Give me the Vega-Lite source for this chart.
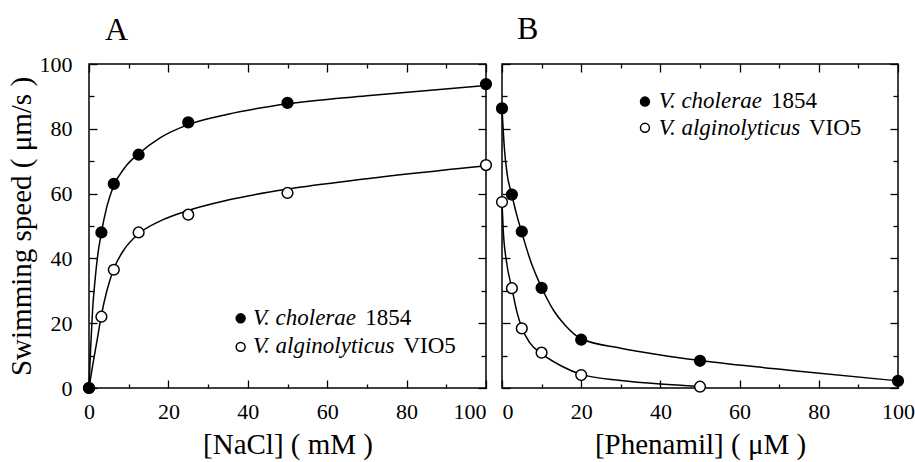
{
  "$schema": "https://vega.github.io/schema/vega-lite/v6.json",
  "background": "white",
  "padding": {"left": 6, "top": 12, "right": 5, "bottom": 5},
  "bounds": "flush",
  "spacing": 16,
  "config": {
    "view": {"stroke": "black", "strokeWidth": 1.5},
    "font": "Liberation Serif",
    "axis": {
      "labelFont": "Liberation Serif", "labelFontSize": 22, "labelColor": "black",
      "titleFont": "Liberation Serif", "titleFontSize": 29, "titleFontWeight": "normal", "titleColor": "black",
      "tickColor": "black", "tickWidth": 1.3, "domain": false, "grid": false,
      "labelFlush": false, "labelOverlap": false, "labelBound": false
    },
    "title": {"font": "Liberation Serif", "fontSize": 32, "fontWeight": "normal", "color": "black"}
  },
  "datasets": {
    "points": [
      {"panel": "A", "strain": "V. alginolyticus VIO5", "x": 0, "y": 0},
      {"panel": "A", "strain": "V. alginolyticus VIO5", "x": 3.125, "y": 22},
      {"panel": "A", "strain": "V. alginolyticus VIO5", "x": 6.25, "y": 36.5},
      {"panel": "A", "strain": "V. alginolyticus VIO5", "x": 12.5, "y": 48},
      {"panel": "A", "strain": "V. alginolyticus VIO5", "x": 25, "y": 53.5},
      {"panel": "A", "strain": "V. alginolyticus VIO5", "x": 50, "y": 60.2},
      {"panel": "A", "strain": "V. alginolyticus VIO5", "x": 100, "y": 68.8},
      {"panel": "A", "strain": "V. cholerae 1854", "x": 0, "y": 0},
      {"panel": "A", "strain": "V. cholerae 1854", "x": 3.125, "y": 48},
      {"panel": "A", "strain": "V. cholerae 1854", "x": 6.25, "y": 63},
      {"panel": "A", "strain": "V. cholerae 1854", "x": 12.5, "y": 72},
      {"panel": "A", "strain": "V. cholerae 1854", "x": 25, "y": 82},
      {"panel": "A", "strain": "V. cholerae 1854", "x": 50, "y": 88},
      {"panel": "A", "strain": "V. cholerae 1854", "x": 100, "y": 93.8},
      {"panel": "B", "strain": "V. alginolyticus VIO5", "x": 0, "y": 57.4},
      {"panel": "B", "strain": "V. alginolyticus VIO5", "x": 2.5, "y": 30.8},
      {"panel": "B", "strain": "V. alginolyticus VIO5", "x": 5, "y": 18.4},
      {"panel": "B", "strain": "V. alginolyticus VIO5", "x": 10, "y": 10.9},
      {"panel": "B", "strain": "V. alginolyticus VIO5", "x": 20, "y": 4.0},
      {"panel": "B", "strain": "V. alginolyticus VIO5", "x": 50, "y": 0.4},
      {"panel": "B", "strain": "V. cholerae 1854", "x": 0, "y": 86.3},
      {"panel": "B", "strain": "V. cholerae 1854", "x": 2.5, "y": 59.7},
      {"panel": "B", "strain": "V. cholerae 1854", "x": 5, "y": 48.3},
      {"panel": "B", "strain": "V. cholerae 1854", "x": 10, "y": 30.9},
      {"panel": "B", "strain": "V. cholerae 1854", "x": 20, "y": 14.9},
      {"panel": "B", "strain": "V. cholerae 1854", "x": 50, "y": 8.4},
      {"panel": "B", "strain": "V. cholerae 1854", "x": 100, "y": 2.2}
    ],
    "curves": [
      {"panel": "A", "strain": "V. cholerae 1854", "x": 0, "y": 0},
      {"panel": "A", "strain": "V. cholerae 1854", "x": 0.4, "y": 12},
      {"panel": "A", "strain": "V. cholerae 1854", "x": 0.9, "y": 24},
      {"panel": "A", "strain": "V. cholerae 1854", "x": 1.5, "y": 33},
      {"panel": "A", "strain": "V. cholerae 1854", "x": 2.2, "y": 41},
      {"panel": "A", "strain": "V. cholerae 1854", "x": 3.125, "y": 48},
      {"panel": "A", "strain": "V. cholerae 1854", "x": 4.5, "y": 56},
      {"panel": "A", "strain": "V. cholerae 1854", "x": 6.25, "y": 62.5},
      {"panel": "A", "strain": "V. cholerae 1854", "x": 9, "y": 68},
      {"panel": "A", "strain": "V. cholerae 1854", "x": 12.5, "y": 72.3},
      {"panel": "A", "strain": "V. cholerae 1854", "x": 18, "y": 77.3},
      {"panel": "A", "strain": "V. cholerae 1854", "x": 25, "y": 81.3},
      {"panel": "A", "strain": "V. cholerae 1854", "x": 35, "y": 84.5},
      {"panel": "A", "strain": "V. cholerae 1854", "x": 50, "y": 87.7},
      {"panel": "A", "strain": "V. cholerae 1854", "x": 70, "y": 90.2},
      {"panel": "A", "strain": "V. cholerae 1854", "x": 100, "y": 93.4},
      {"panel": "A", "strain": "V. alginolyticus VIO5", "x": 0, "y": 0},
      {"panel": "A", "strain": "V. alginolyticus VIO5", "x": 1, "y": 7.5},
      {"panel": "A", "strain": "V. alginolyticus VIO5", "x": 2, "y": 14.5},
      {"panel": "A", "strain": "V. alginolyticus VIO5", "x": 3.125, "y": 22.5},
      {"panel": "A", "strain": "V. alginolyticus VIO5", "x": 4.5, "y": 30},
      {"panel": "A", "strain": "V. alginolyticus VIO5", "x": 6.25, "y": 36.8},
      {"panel": "A", "strain": "V. alginolyticus VIO5", "x": 9, "y": 43},
      {"panel": "A", "strain": "V. alginolyticus VIO5", "x": 12.5, "y": 47.6},
      {"panel": "A", "strain": "V. alginolyticus VIO5", "x": 18, "y": 51.6},
      {"panel": "A", "strain": "V. alginolyticus VIO5", "x": 25, "y": 54.8},
      {"panel": "A", "strain": "V. alginolyticus VIO5", "x": 35, "y": 58},
      {"panel": "A", "strain": "V. alginolyticus VIO5", "x": 50, "y": 61.4},
      {"panel": "A", "strain": "V. alginolyticus VIO5", "x": 70, "y": 64.6},
      {"panel": "A", "strain": "V. alginolyticus VIO5", "x": 100, "y": 68.6},
      {"panel": "B", "strain": "V. cholerae 1854", "x": 0, "y": 86.3},
      {"panel": "B", "strain": "V. cholerae 1854", "x": 0.6, "y": 74},
      {"panel": "B", "strain": "V. cholerae 1854", "x": 1.3, "y": 66},
      {"panel": "B", "strain": "V. cholerae 1854", "x": 2.5, "y": 59.5},
      {"panel": "B", "strain": "V. cholerae 1854", "x": 3.7, "y": 53.5},
      {"panel": "B", "strain": "V. cholerae 1854", "x": 5, "y": 48},
      {"panel": "B", "strain": "V. cholerae 1854", "x": 7, "y": 40},
      {"panel": "B", "strain": "V. cholerae 1854", "x": 10, "y": 31},
      {"panel": "B", "strain": "V. cholerae 1854", "x": 13, "y": 24},
      {"panel": "B", "strain": "V. cholerae 1854", "x": 16, "y": 19.3},
      {"panel": "B", "strain": "V. cholerae 1854", "x": 20, "y": 15.2},
      {"panel": "B", "strain": "V. cholerae 1854", "x": 30, "y": 12.3},
      {"panel": "B", "strain": "V. cholerae 1854", "x": 40, "y": 10.2},
      {"panel": "B", "strain": "V. cholerae 1854", "x": 50, "y": 8.5},
      {"panel": "B", "strain": "V. cholerae 1854", "x": 75, "y": 5.2},
      {"panel": "B", "strain": "V. cholerae 1854", "x": 100, "y": 2.2},
      {"panel": "B", "strain": "V. alginolyticus VIO5", "x": 0, "y": 57.3},
      {"panel": "B", "strain": "V. alginolyticus VIO5", "x": 0.3, "y": 49},
      {"panel": "B", "strain": "V. alginolyticus VIO5", "x": 1.2, "y": 38.5},
      {"panel": "B", "strain": "V. alginolyticus VIO5", "x": 2.5, "y": 30.8},
      {"panel": "B", "strain": "V. alginolyticus VIO5", "x": 3.7, "y": 23.8},
      {"panel": "B", "strain": "V. alginolyticus VIO5", "x": 5, "y": 18.6},
      {"panel": "B", "strain": "V. alginolyticus VIO5", "x": 7, "y": 14},
      {"panel": "B", "strain": "V. alginolyticus VIO5", "x": 10, "y": 10.6},
      {"panel": "B", "strain": "V. alginolyticus VIO5", "x": 15, "y": 6.8},
      {"panel": "B", "strain": "V. alginolyticus VIO5", "x": 20, "y": 4.2},
      {"panel": "B", "strain": "V. alginolyticus VIO5", "x": 30, "y": 2.3},
      {"panel": "B", "strain": "V. alginolyticus VIO5", "x": 40, "y": 1.2},
      {"panel": "B", "strain": "V. alginolyticus VIO5", "x": 50, "y": 0.5}
    ]
  },
  "hconcat": [
    {
      "width": 397, "height": 324,
      "title": {"text": "A", "anchor": "start", "frame": "group", "dx": 16, "offset": -19, "baseline": "alphabetic"},
      "resolve": {"axis": {"x": "independent", "y": "independent"}},
      "layer": [
        {
          "data": {"name": "curves"},
          "transform": [{"filter": "datum.panel == 'A'"}],
          "mark": {"type": "line", "color": "black", "strokeWidth": 1.5, "interpolate": "monotone"},
          "encoding": {
            "x": {"field": "x", "type": "quantitative", "scale": {"domain": [0, 100]},
              "axis": {"orient": "bottom", "values": [0,10,20,30,40,50,60,70,80,90,100],
                "labelExpr": "datum.value % 20 == 0 ? datum.label : ''",
                "tickSize": {"condition": {"test": "datum.value % 20 == 0", "value": -8}, "value": -4},
                "labelPadding": 21,
                "labelAlign": {"condition": {"test": "datum.value == 100", "value": "right"}, "value": "center"},
                "title": "[NaCl] ( mM )", "titlePadding": 4}},
            "y": {"field": "y", "type": "quantitative", "scale": {"domain": [0, 100]},
              "axis": {"orient": "left", "values": [0,10,20,30,40,50,60,70,80,90,100],
                "labelExpr": "datum.value % 20 == 0 ? datum.label : ''",
                "tickSize": {"condition": {"test": "datum.value % 20 == 0", "value": -8}, "value": -5},
                "labelPadding": 25,
                "title": "Swimming speed ( μm/s )", "titlePadding": 3}},
            "detail": {"field": "strain"}
          }
        },
        {
          "data": {"name": "points"},
          "transform": [{"filter": "datum.panel == 'A'"}],
          "mark": {"type": "point", "shape": "circle", "size": 115, "stroke": "black", "strokeWidth": 1.5, "opacity": 1, "filled": true},
          "encoding": {
            "x": {"field": "x", "type": "quantitative",
              "axis": {"orient": "top", "values": [0,10,20,30,40,50,60,70,80,90,100], "labels": false, "title": null,
                "tickSize": {"condition": {"test": "datum.value % 20 == 0", "value": -8}, "value": -4}}},
            "y": {"field": "y", "type": "quantitative",
              "axis": {"orient": "right", "values": [0,10,20,30,40,50,60,70,80,90,100], "labels": false, "title": null,
                "tickSize": {"condition": {"test": "datum.value % 20 == 0", "value": -8}, "value": -5}}},
            "fill": {"field": "strain", "type": "nominal", "scale": {"domain": ["V. alginolyticus VIO5", "V. cholerae 1854"], "range": ["white", "black"]}, "legend": null}
          }
        },
        {
          "data": {"values": [{}]},
          "mark": {"type": "point", "shape": "circle", "size": 80, "stroke": "black", "strokeWidth": 1.5, "fill": "black", "opacity": 1},
          "encoding": {"x": {"datum": 38.2, "type": "quantitative", "axis": null}, "y": {"datum": 21.5, "type": "quantitative", "axis": null}}
        },
        {
          "data": {"values": [{}]},
          "mark": {"type": "point", "shape": "circle", "size": 80, "stroke": "black", "strokeWidth": 1.5, "fill": "white", "opacity": 1},
          "encoding": {"x": {"datum": 38.2, "type": "quantitative", "axis": null}, "y": {"datum": 12.7, "type": "quantitative", "axis": null}}
        },
        {
          "data": {"values": [{}]},
          "mark": {"type": "text", "text": "V. cholerae", "font": "Liberation Serif", "fontSize": 23, "fontStyle": "italic", "align": "left", "baseline": "alphabetic", "color": "black"},
          "encoding": {"x": {"datum": 41.3, "type": "quantitative", "axis": null}, "y": {"datum": 19.4, "type": "quantitative", "axis": null}}
        },
        {
          "data": {"values": [{}]},
          "mark": {"type": "text", "text": "1854", "font": "Liberation Serif", "fontSize": 23, "align": "left", "baseline": "alphabetic", "color": "black"},
          "encoding": {"x": {"datum": 69.6, "type": "quantitative", "axis": null}, "y": {"datum": 19.4, "type": "quantitative", "axis": null}}
        },
        {
          "data": {"values": [{}]},
          "mark": {"type": "text", "text": "V. alginolyticus", "font": "Liberation Serif", "fontSize": 23, "fontStyle": "italic", "align": "left", "baseline": "alphabetic", "color": "black"},
          "encoding": {"x": {"datum": 41.3, "type": "quantitative", "axis": null}, "y": {"datum": 10.8, "type": "quantitative", "axis": null}}
        },
        {
          "data": {"values": [{}]},
          "mark": {"type": "text", "text": "VIO5", "font": "Liberation Serif", "fontSize": 23, "align": "left", "baseline": "alphabetic", "color": "black"},
          "encoding": {"x": {"datum": 79.2, "type": "quantitative", "axis": null}, "y": {"datum": 10.8, "type": "quantitative", "axis": null}}
        }
      ]
    },
    {
      "width": 396, "height": 324,
      "title": {"text": "B", "anchor": "start", "frame": "group", "dx": 15, "offset": -7.5, "baseline": "alphabetic"},
      "resolve": {"axis": {"x": "independent", "y": "independent"}},
      "layer": [
        {
          "data": {"name": "curves"},
          "transform": [{"filter": "datum.panel == 'B'"}],
          "mark": {"type": "line", "color": "black", "strokeWidth": 1.5, "interpolate": "monotone"},
          "encoding": {
            "x": {"field": "x", "type": "quantitative", "scale": {"domain": [0, 100]},
              "axis": {"orient": "bottom", "values": [0,10,20,30,40,50,60,70,80,90,100],
                "labelExpr": "datum.value % 20 == 0 ? datum.label : ''",
                "tickSize": {"condition": {"test": "datum.value % 20 == 0", "value": -8}, "value": -4},
                "labelPadding": 21,
                "labelAlign": {"condition": {"test": "datum.value == 0", "value": "left"}, "value": "center"},
                "title": "[Phenamil] ( μM )", "titlePadding": 4}},
            "y": {"field": "y", "type": "quantitative", "scale": {"domain": [0, 100]},
              "axis": {"orient": "left", "values": [0,10,20,30,40,50,60,70,80,90,100], "labels": false, "title": null,
                "tickSize": {"condition": {"test": "datum.value % 20 == 0", "value": -8}, "value": -5}}},
            "detail": {"field": "strain"}
          }
        },
        {
          "data": {"name": "points"},
          "transform": [{"filter": "datum.panel == 'B'"}],
          "mark": {"type": "point", "shape": "circle", "size": 115, "stroke": "black", "strokeWidth": 1.5, "opacity": 1, "filled": true},
          "encoding": {
            "x": {"field": "x", "type": "quantitative",
              "axis": {"orient": "top", "values": [0,10,20,30,40,50,60,70,80,90,100], "labels": false, "title": null,
                "tickSize": {"condition": {"test": "datum.value % 20 == 0", "value": -8}, "value": -4}}},
            "y": {"field": "y", "type": "quantitative",
              "axis": {"orient": "right", "values": [0,10,20,30,40,50,60,70,80,90,100], "labels": false, "title": null,
                "tickSize": {"condition": {"test": "datum.value % 20 == 0", "value": -8}, "value": -5}}},
            "fill": {"field": "strain", "type": "nominal", "scale": {"domain": ["V. alginolyticus VIO5", "V. cholerae 1854"], "range": ["white", "black"]}, "legend": null}
          }
        },
        {
          "data": {"values": [{}]},
          "mark": {"type": "point", "shape": "circle", "size": 80, "stroke": "black", "strokeWidth": 1.5, "fill": "black", "opacity": 1},
          "encoding": {"x": {"datum": 36.1, "type": "quantitative", "axis": null}, "y": {"datum": 88.4, "type": "quantitative", "axis": null}}
        },
        {
          "data": {"values": [{}]},
          "mark": {"type": "point", "shape": "circle", "size": 80, "stroke": "black", "strokeWidth": 1.5, "fill": "white", "opacity": 1},
          "encoding": {"x": {"datum": 36.1, "type": "quantitative", "axis": null}, "y": {"datum": 80.3, "type": "quantitative", "axis": null}}
        },
        {
          "data": {"values": [{}]},
          "mark": {"type": "text", "text": "V. cholerae", "font": "Liberation Serif", "fontSize": 23, "fontStyle": "italic", "align": "left", "baseline": "alphabetic", "color": "black"},
          "encoding": {"x": {"datum": 39.6, "type": "quantitative", "axis": null}, "y": {"datum": 86.3, "type": "quantitative", "axis": null}}
        },
        {
          "data": {"values": [{}]},
          "mark": {"type": "text", "text": "1854", "font": "Liberation Serif", "fontSize": 23, "align": "left", "baseline": "alphabetic", "color": "black"},
          "encoding": {"x": {"datum": 67.9, "type": "quantitative", "axis": null}, "y": {"datum": 86.3, "type": "quantitative", "axis": null}}
        },
        {
          "data": {"values": [{}]},
          "mark": {"type": "text", "text": "V. alginolyticus", "font": "Liberation Serif", "fontSize": 23, "fontStyle": "italic", "align": "left", "baseline": "alphabetic", "color": "black"},
          "encoding": {"x": {"datum": 39.6, "type": "quantitative", "axis": null}, "y": {"datum": 78.1, "type": "quantitative", "axis": null}}
        },
        {
          "data": {"values": [{}]},
          "mark": {"type": "text", "text": "VIO5", "font": "Liberation Serif", "fontSize": 23, "align": "left", "baseline": "alphabetic", "color": "black"},
          "encoding": {"x": {"datum": 77.5, "type": "quantitative", "axis": null}, "y": {"datum": 78.1, "type": "quantitative", "axis": null}}
        }
      ]
    }
  ]
}
